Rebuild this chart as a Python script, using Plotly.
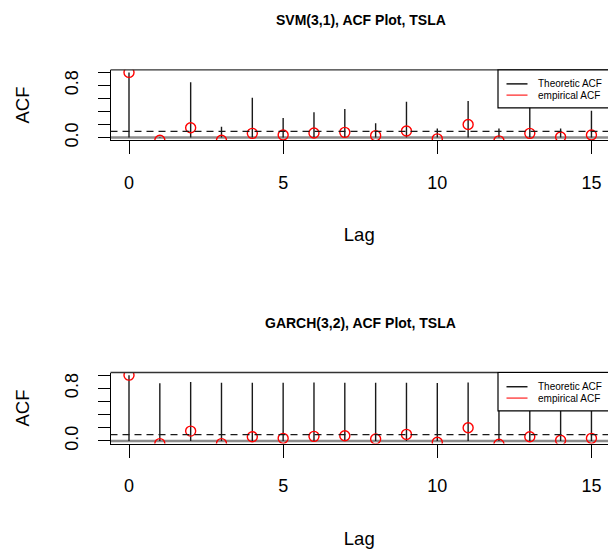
import plotly.graph_objects as go

# ---- data -------------------------------------------------------------
lags = list(range(16))
svm_theoretic = [1.0, 0.01, 0.85, 0.165, 0.61, 0.30, 0.39, 0.44, 0.22, 0.55,
                 0.14, 0.56, 0.14, 0.50, 0.14, 0.41]
garch_theoretic = [1.0, 0.875, 0.895, 0.885, 0.885, 0.885, 0.89, 0.885, 0.885,
                   0.885, 0.88, 0.89, 0.88, 0.88, 0.88, 0.88]
empirical_acf = [1.0, -0.04, 0.15, -0.04, 0.065, 0.04, 0.07, 0.08, 0.03, 0.10,
                 -0.02, 0.20, -0.05, 0.065, 0.01, 0.04]
conf_bound = 0.095

panel_titles = ["SVM(3,1), ACF Plot, TSLA", "GARCH(3,2), ACF Plot, TSLA"]
legend_labels = ["Theoretic ACF", "empirical ACF"]
x_tick_vals = [0, 5, 10, 15]
y_tick_vals = [0.0, 0.2, 0.4, 0.6, 0.8, 1.0]
y_tick_text = ["0.0", "", "", "", "0.8", ""]

# ---- layout constants -------------------------------------------------
W, H = 608, 551
FONT = "Liberation Sans, Arial, Helvetica, sans-serif"
PLOT_LEFT = 110.5
PX_PER_LAG = 30.83
X_RANGE = [-0.6, -0.6 + (W - PLOT_LEFT) / PX_PER_LAG]
Y_RANGE = [-0.04, 1.04]
panels_px = [(70.7, 142.0), (377.3, 449.3)]  # (top, bottom) in pixels


def stems(xs, ys):
    """Vertical segments from zero to each value (R's type='h')."""
    sx, sy = [], []
    for x, y in zip(xs, ys):
        sx += [x, x, None]
        sy += [0, y, None]
    return sx, sy


fig = go.Figure()
shapes, annotations = [], []
theoretic_sets = [svm_theoretic, garch_theoretic]

for i, (top_px, bot_px) in enumerate(panels_px):
    n = "" if i == 0 else str(i + 1)
    xa, ya = "x" + n, "y" + n

    sx, sy = stems(lags, theoretic_sets[i])
    fig.add_trace(go.Scatter(
        x=sx, y=sy, xaxis=xa, yaxis=ya, mode="lines",
        line=dict(color="#1a1a1a", width=1.4), name=legend_labels[0],
        showlegend=False, hoverinfo="skip"))
    fig.add_trace(go.Scatter(
        x=lags, y=empirical_acf, xaxis=xa, yaxis=ya, mode="markers",
        marker=dict(symbol="circle-open", size=10, color="red",
                    line=dict(color="red", width=1.4)),
        name=legend_labels[1], showlegend=False))

    dom = [(H - bot_px) / H, (H - top_px) / H]
    axis_x = dict(domain=[PLOT_LEFT / W, 1.0], range=X_RANGE, anchor=ya,
                  tickmode="array", tickvals=x_tick_vals,
                  ticks="outside", ticklen=13, tickwidth=1, tickcolor="black",
                  ticklabelstandoff=13,
                  showline=True, linecolor="black", linewidth=1,
                  showgrid=False, zeroline=False,
                  tickfont=dict(family=FONT, size=18, color="black"),
                  title=dict(text="Lag", standoff=36,
                             font=dict(family=FONT, size=18.5, color="black")))
    axis_y = dict(domain=dom, range=Y_RANGE, anchor=xa,
                  tickmode="array", tickvals=y_tick_vals, ticktext=y_tick_text,
                  tickangle=-90, ticks="outside", ticklen=12, tickwidth=1,
                  tickcolor="black", ticklabelstandoff=12,
                  showline=True, linecolor="black", linewidth=1,
                  showgrid=False, zeroline=False,
                  tickfont=dict(family=FONT, size=18, color="black"),
                  title=dict(text="ACF", standoff=27,
                             font=dict(family=FONT, size=18.5, color="black")))
    fig.update_layout({"xaxis" + n: axis_x, "yaxis" + n: axis_y})

    xd, yd = xa + " domain", ya + " domain"
    # zero reference line and confidence bound
    shapes.append(dict(type="line", xref=xd, yref=ya, x0=0, x1=1, y0=0, y1=0,
                       line=dict(color="#8c8c8c", width=2.5), layer="below"))
    shapes.append(dict(type="line", xref=xd, yref=ya, x0=0, x1=1,
                       y0=conf_bound, y1=conf_bound,
                       line=dict(color="#1a1a1a", width=1.3, dash="7px,5px")))
    # top edge of the frame
    shapes.append(dict(type="line", xref=xd, yref=yd, x0=0, x1=1.02, y0=1, y1=1,
                       line=dict(color="#333333", width=1.3)))

    # legend box (top-right, inset 0)
    lx0 = (498 - PLOT_LEFT) / (W - PLOT_LEFT)
    shapes.append(dict(type="rect", xref=xd, yref=yd, x0=lx0, x1=1.03,
                       y0=0.46, y1=1.0, fillcolor="white",
                       line=dict(color="black", width=1.2)))
    s0 = (506.5 - PLOT_LEFT) / (W - PLOT_LEFT)
    s1 = (527.5 - PLOT_LEFT) / (W - PLOT_LEFT)
    t0 = (535.5 - PLOT_LEFT) / (W - PLOT_LEFT)
    for lab, col, yy in zip(legend_labels, ["#1a1a1a", "#ff4d4d"], [0.80, 0.64]):
        shapes.append(dict(type="line", xref=xd, yref=yd, x0=s0, x1=s1,
                           y0=yy, y1=yy, line=dict(color=col, width=1.5)))
        annotations.append(dict(text=lab, xref=xd, yref=yd, x=t0, y=yy,
                                xanchor="left", yanchor="middle",
                                showarrow=False,
                                font=dict(family=FONT, size=10, color="black")))

    # panel title
    annotations.append(dict(text="<b>" + panel_titles[i] + "</b>",
                            xref="paper", yref="paper",
                            x=(PLOT_LEFT + 611) / 2 / W,
                            y=(H - (top_px - 50.5)) / H,
                            xanchor="center", yanchor="middle", showarrow=False,
                            font=dict(family=FONT, size=14, color="black")))

fig.update_layout(
    width=W, height=H,
    margin=dict(l=0, r=0, t=0, b=0),
    paper_bgcolor="white", plot_bgcolor="white",
    showlegend=False,
    shapes=shapes, annotations=annotations,
    font=dict(family=FONT, color="black"),
)

fig.write_html("out.html")
